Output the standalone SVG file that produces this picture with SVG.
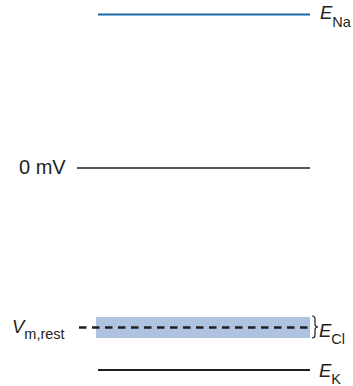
<svg xmlns="http://www.w3.org/2000/svg" width="353" height="386" viewBox="0 0 353 386">
<style>
text{font-family:"Liberation Sans",Arial,sans-serif;fill:#231f20}
.lbl{font-size:18.5px}
.it{font-style:italic}
.sub{font-size:14.5px;font-style:normal}
.ln{stroke:#231f20;fill:none}
</style>
<rect width="353" height="386" fill="#fff"/>
<g id="band">
<rect x="96" y="317" width="214" height="21" fill="#adc3e0"/>
</g>
<g id="connectors">
<line class="ln" x1="98" y1="14.5" x2="310" y2="14.5" style="stroke:#1a6aa8" stroke-width="2.2"/>
<line class="ln" x1="77" y1="168" x2="310" y2="168" stroke-width="1.3"/>
<line class="ln" x1="79" y1="327.5" x2="310" y2="327.5" stroke-width="2.4" stroke-dasharray="7.5 5.5"/>
<line class="ln" x1="98" y1="370" x2="310" y2="370" stroke-width="2.2"/>
</g>
<g id="ENa"><text class="lbl it" x="320" y="19">E<tspan class="sub" dy="8">Na</tspan></text></g>
<g id="zero"><text x="19" y="174" style="font-size:20px">0 mV</text></g>
<g id="Vrest"><text class="lbl it" x="12" y="332.5">V<tspan class="sub" dy="6">m,rest</tspan></text></g>
<g id="ECl"><path class="ln" stroke-width="1.2" d="M312 316 Q315 316 315 319 V324 Q315 327 318 327 Q315 327 315 330 V335 Q315 338 312 338"/><text class="lbl it" x="319" y="336.5">E<tspan class="sub" dy="7">Cl</tspan></text></g>
<g id="EK"><text class="lbl it" x="319" y="377">E<tspan class="sub" dy="7">K</tspan></text></g>
</svg>
